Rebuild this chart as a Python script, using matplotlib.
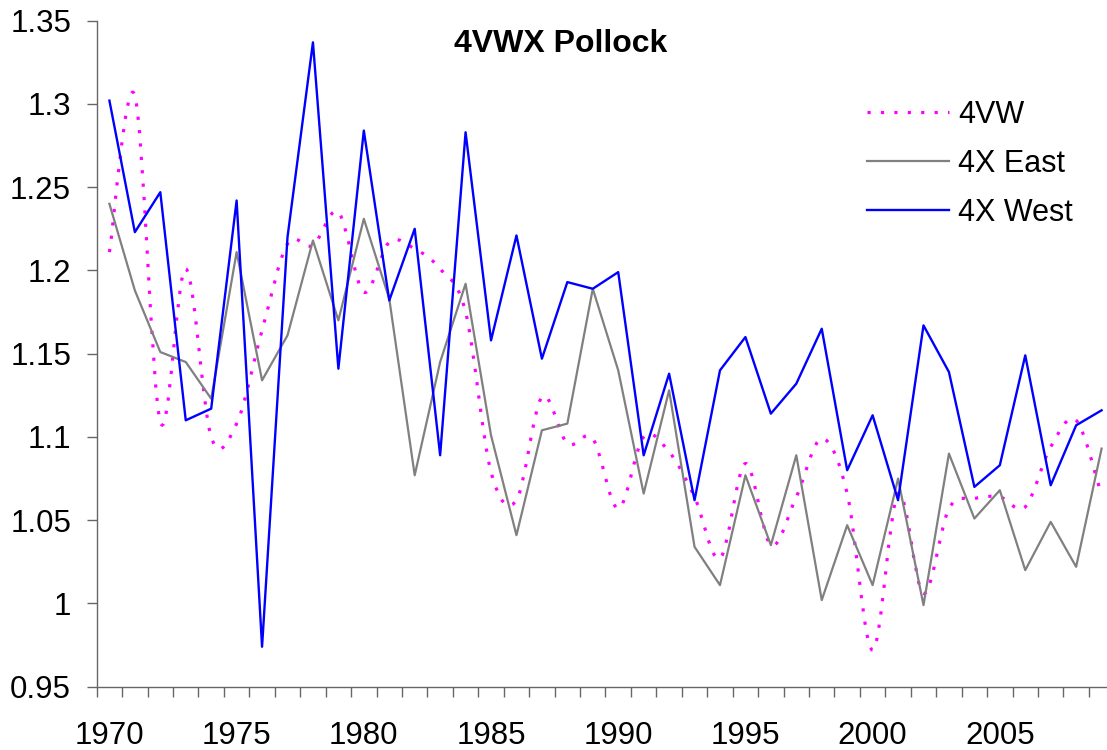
import numpy as np
import matplotlib
matplotlib.use('Agg')
import matplotlib.pyplot as plt
from matplotlib.path import Path
from matplotlib.patches import PathPatch
from matplotlib.lines import Line2D

plt.rcParams['font.family'] = ['Liberation Sans', 'DejaVu Sans']

# data (1970-2009)
years = list(range(1970, 2010))
pollock_4vw = [1.211, 1.305, 1.109, 1.201, 1.100, 1.108, 1.164, 1.216, 1.215, 1.235,
               1.187, 1.217, 1.213, 1.201, 1.175, 1.079, 1.062, 1.124, 1.096, 1.099,
               1.057, 1.100, 1.091, 1.064, 1.027, 1.084, 1.035, 1.064, 1.099, 1.066,
               0.972, 1.066, 1.006, 1.057, 1.063, 1.064, 1.058, 1.094, 1.110, 1.065]
pollock_4x_east = [1.240, 1.188, 1.151, 1.145, 1.123, 1.211, 1.134, 1.161, 1.218, 1.170,
                   1.231, 1.183, 1.077, 1.145, 1.192, 1.101, 1.041, 1.104, 1.108, 1.189,
                   1.140, 1.066, 1.128, 1.034, 1.011, 1.077, 1.035, 1.089, 1.002, 1.047,
                   1.011, 1.075, 0.999, 1.090, 1.051, 1.068, 1.020, 1.049, 1.022, 1.093]
pollock_4x_west = [1.302, 1.223, 1.247, 1.110, 1.117, 1.242, 0.974, 1.220, 1.337, 1.141,
                   1.284, 1.182, 1.225, 1.089, 1.283, 1.158, 1.221, 1.147, 1.193, 1.189,
                   1.199, 1.089, 1.138, 1.062, 1.140, 1.160, 1.114, 1.132, 1.165, 1.080,
                   1.113, 1.062, 1.167, 1.139, 1.070, 1.083, 1.149, 1.071, 1.107, 1.116]
ytick_vals = [0.95, 1.0, 1.05, 1.1, 1.15, 1.2, 1.25, 1.3, 1.35]
ytick_labels = ['0.95', '1', '1.05', '1.1', '1.15', '1.2', '1.25', '1.3', '1.35']
series_names = ['4VW', '4X East', '4X West']


def smooth_path(xs, ys):
    # excel style smoothed line: bezier through the points
    pts = np.column_stack([xs, ys]).astype(float)
    n = len(pts)
    verts = [pts[0]]
    codes = [Path.MOVETO]
    for i in range(n - 1):
        p0 = pts[max(i - 1, 0)]
        p1 = pts[i]
        p2 = pts[i + 1]
        p3 = pts[min(i + 2, n - 1)]
        verts += [p1 + (p2 - p0) / 6.0, p2 - (p3 - p1) / 6.0, p2]
        codes += [Path.CURVE4] * 3
    return Path(verts, codes)


W, H = 1107, 750
fig = plt.figure(figsize=(W / 100, H / 100), dpi=100)
left, right, top, bottom = 96.7, 1114.3, 20.7, 686.7
ax = fig.add_axes([left / W, 1 - bottom / H, (right - left) / W, (bottom - top) / H])

x = np.arange(len(years))
dotted = (0, (1, 3.2))

ax.add_patch(PathPatch(smooth_path(x, pollock_4vw), fill=False, edgecolor='#ff00ff',
                       linewidth=2.3, linestyle=dotted))
ax.plot(x, pollock_4x_east, color='#808080', linewidth=1.6)
ax.plot(x, pollock_4x_west, color='#0000ff', linewidth=1.7)

ax.set_xlim(-0.5, len(years) - 0.5)
ax.set_ylim(0.95, 1.35)

ax.set_yticks(ytick_vals)
ax.set_yticklabels(ytick_labels)
major = [i for i, yr in enumerate(years) if yr % 5 == 0]
ax.set_xticks(major)
ax.set_xticklabels([str(years[i]) for i in major])
ax.set_xticks(np.arange(-0.5, len(years), 1), minor=True)

ax.tick_params(axis='y', length=7.5, width=1, color='#666666', labelsize=22.5, pad=11)
ax.tick_params(axis='x', which='major', length=0, labelsize=22.5, pad=25)
ax.tick_params(axis='x', which='minor', length=7.5, width=1, color='#666666')

for s in ['top', 'right']:
    ax.spines[s].set_visible(False)
for s in ['left', 'bottom']:
    ax.spines[s].set_color('#666666')
    ax.spines[s].set_linewidth(1)

fig.text(561 / W, 1 - 52 / H, '4VWX Pollock', fontsize=23, fontweight='bold',
         ha='center', va='baseline')

handles = [Line2D([], [], color='#ff00ff', linewidth=2.3, linestyle=dotted),
           Line2D([], [], color='#808080', linewidth=1.6),
           Line2D([], [], color='#0000ff', linewidth=1.7)]
fig.legend(handles, series_names, loc='upper left', bbox_to_anchor=(866.7 / W, 1 - 100 / H),
           frameon=False, fontsize=22, handlelength=2.7, handletextpad=0.28,
           labelspacing=0.62, borderpad=0, borderaxespad=0)

fig.savefig('out.png', dpi=100)
